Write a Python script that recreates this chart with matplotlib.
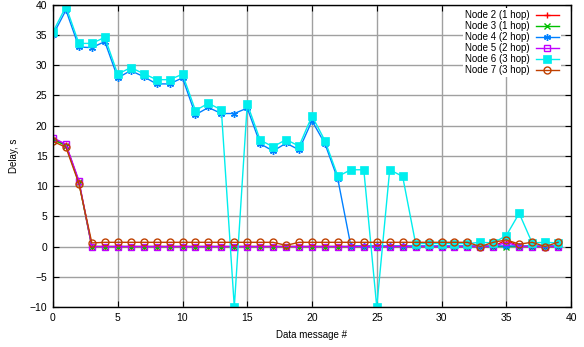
import matplotlib
matplotlib.use("Agg")
import matplotlib.pyplot as plt
import numpy as np

plt.rcParams['font.family'] = ['Liberation Sans', 'DejaVu Sans']

msg = list(range(40))

node2 = [17.8, 16.8, 10.7] + [0.0] * 32 + [1.1, 0.0, 0.0, 0.0, 0.0]
node3 = [17.7, 16.7, 10.6] + [0.0] * 37
node4 = [35.0, 39.1, 33.0, 32.9, 33.9, 27.9, 29.1, 28.1, 26.9, 26.9,
         27.9, 21.8, 23.0, 22.0, 22.0, 22.9, 17.0, 15.8, 17.1, 16.0,
         20.8, 17.0, 11.1, 0.1, 0.1, 0.1, 0.1, 0.1, 0.1, 0.1,
         0.1, 0.1, 0.1, 0.1, 0.1, 0.1, 0.1, 0.1, 0.1, 0.1]
node5 = [18.0, 16.9, 10.9] + [0.0] * 32 + [0.7, 0.0, 0.0, 0.0, 0.0]
node6 = [35.5, 39.7, 33.6, 33.6, 34.6, 28.5, 29.6, 28.6, 27.6, 27.6,
         28.5, 22.5, 23.7, 22.6, -10.0, 23.6, 17.6, 16.5, 17.7, 16.6,
         21.6, 17.5, 11.6, 12.7, 12.7, -10.0, 12.7, 11.6, 0.5, 0.5,
         0.5, 0.5, 0.5, 0.7, 0.6, 1.8, 5.5, 0.6, 0.7, 0.6]
node7 = [17.4, 16.4, 10.4, 0.6, 0.7, 0.7, 0.7, 0.7, 0.7, 0.7,
         0.7, 0.7, 0.7, 0.7, 0.7, 0.7, 0.7, 0.7, 0.2, 0.7,
         0.7, 0.7, 0.7, 0.7, 0.7, 0.7, 0.7, 0.7, 0.7, 0.7,
         0.7, 0.7, 0.7, 0.0, 0.7, 1.1, 0.4, 0.7, 0.0, 0.7]

labels = ["Node 2 (1 hop)", "Node 3 (1 hop)", "Node 4 (2 hop)",
          "Node 5 (2 hop)", "Node 6 (3 hop)", "Node 7 (3 hop)"]
colors = ["#ff0000", "#00c000", "#0080ff", "#c000ff", "#00eeee", "#c04000"]

fig = plt.figure(figsize=(5.84, 3.47), dpi=100)
ax = fig.add_axes([53/584, 1 - 307/347, (571 - 53)/584, (307 - 4.7)/347])

styles = [
    dict(marker='+', ms=5, mfc=colors[0], mew=1.0),
    dict(marker='x', ms=4, mfc=colors[1], mew=1.0),
    dict(marker=(6, 2, 0), ms=5, mew=1.0),
    dict(marker='s', ms=5, mfc='none', mew=1.0),
    dict(marker='s', ms=5.5, mew=0.5),
    dict(marker='o', ms=5, mfc='none', mew=1.0),
]
series = [node2, node3, node4, node5, node6, node7]
for ys, lab, c, st in zip(series, labels, colors, styles):
    ax.plot(msg, ys, color=c, lw=1.0, mec=c, label=lab, **st)

ax.set_xlim(0, 40)
ax.set_ylim(-10, 40)
ax.set_xticks(np.arange(0, 41, 5))
ax.set_yticks(np.arange(-10, 41, 5))
ax.grid(True, color='#a0a0a0', lw=1.0)
ax.set_axisbelow(True)
ax.tick_params(direction='in', top=True, right=True, labelsize=7.5, length=4,
               pad=4)
for sp in ax.spines.values():
    sp.set_linewidth(1.0)
ax.set_xlabel("Data message #", fontsize=7, labelpad=5)
ax.set_ylabel("Delay, s", fontsize=7, labelpad=8)

leg = ax.legend(loc='upper right', fontsize=7, markerfirst=False,
                frameon=True, fancybox=False, edgecolor='none',
                framealpha=1.0, handlelength=2.4, handletextpad=0.6,
                labelspacing=0.11, borderaxespad=0.0, borderpad=0.2,
                bbox_to_anchor=(561/584, 1 - 8/347),
                bbox_transform=fig.transFigure)

fig.savefig("out.png", dpi=100)
